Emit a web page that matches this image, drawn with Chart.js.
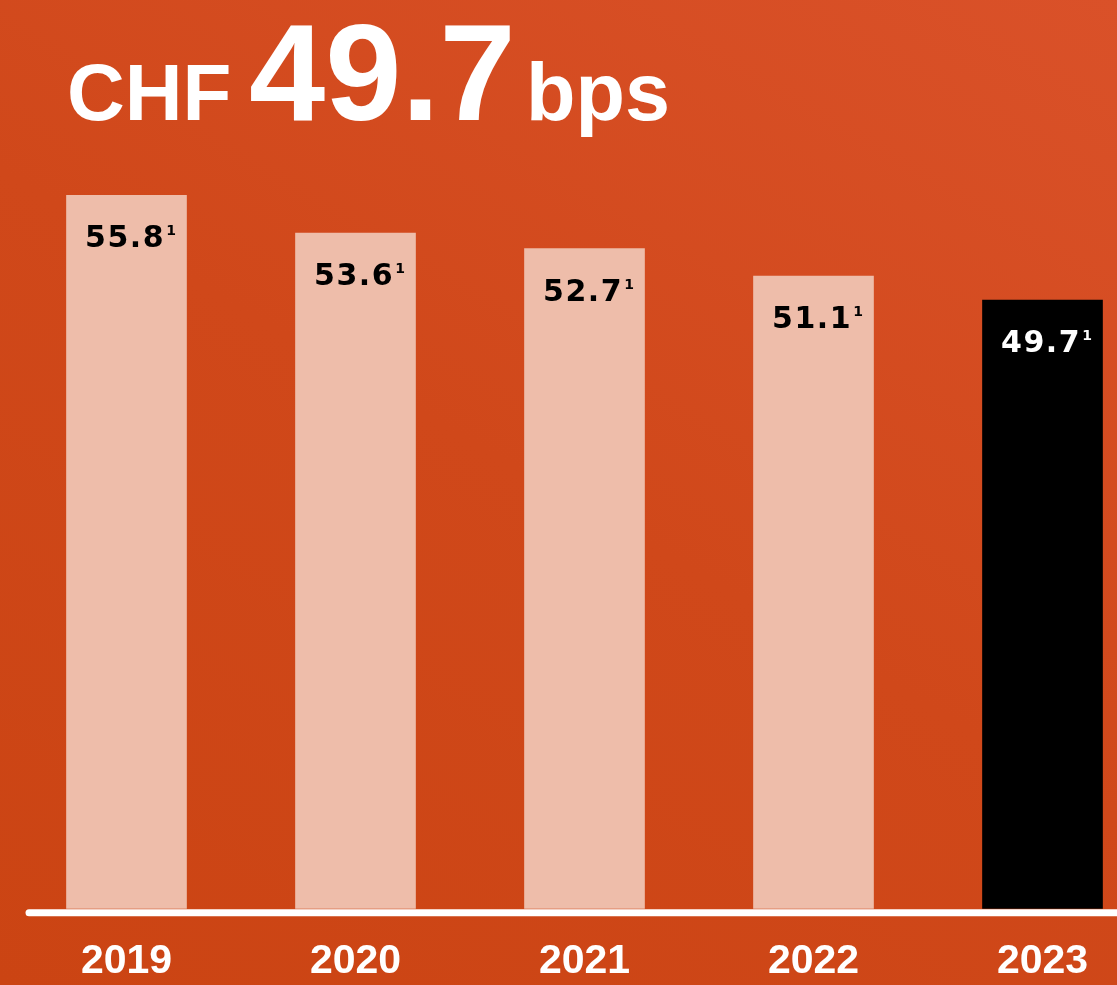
<!DOCTYPE html>
<html>
<head>
<meta charset="utf-8">
<script src="https://cdn.jsdelivr.net/npm/chart.js@4"></script>
<style>
    html, body {
        margin: 0;
        padding: 0;
        width: 1117px;
        height: 985px;
        overflow: hidden;
    }
    body {
        position: relative;
        background: linear-gradient(30deg, #CB4413 0%, #D0481A 50%, #DA5129 100%);
        font-family: "Liberation Sans", Arial, sans-serif;
    }
    .title {
        position: absolute;
        left: 66px;
        top: 0;
        color: #fff;
        font-weight: bold;
        white-space: nowrap;
        line-height: 1;
    }
    .title span { position: absolute; bottom: 0; }
    .wrap {
        position: absolute;
        left: 0;
        top: 0;
        width: 1160px;
        height: 1014px;
    }
</style>
</head>
<body>
<div class="wrap"><canvas id="bpsChart"></canvas></div>
<div class="title" style="top:122px">
    <span style="left:1px; font-size:80px; bottom:-11px">CHF</span>
    <span style="left:183px; font-size:137px; bottom:-19px">49.7</span>
    <span style="left:460px; font-size:81px; bottom:-11px">bps</span>
</div>
<script>
const years = ['2019', '2020', '2021', '2022', '2023'];
const bpsValues = [55.8, 53.6, 52.7, 51.1, 49.7];
const footnote = '1';

const barColors = years.map((y, i) => i === years.length - 1 ? '#000000' : '#EEBDAA');

// подписи значений внутри столбцов
const valueLabels = {
    id: 'valueLabels',
    afterDatasetsDraw(chart) {
        const ctx = chart.ctx;
        const meta = chart.getDatasetMeta(0);
        ctx.save();
        meta.data.forEach((bar, i) => {
            const main = bpsValues[i].toFixed(1);
            ctx.font = 'bold 30px "DejaVu Sans"';
            ctx.letterSpacing = '1.5px';
            const w1 = ctx.measureText(main).width;
            ctx.font = 'bold 14px "DejaVu Sans"';
            ctx.letterSpacing = '0px';
            const w2 = ctx.measureText(footnote).width;
            const x0 = bar.x + 4 - (w1 + w2 + 1) / 2;
            const yb = bar.y + 52;
            ctx.fillStyle = i === years.length - 1 ? '#ffffff' : '#000000';
            ctx.textAlign = 'left';
            ctx.textBaseline = 'alphabetic';
            ctx.font = 'bold 30px "DejaVu Sans"';
            ctx.letterSpacing = '1.5px';
            ctx.fillText(main, x0, yb);
            ctx.font = 'bold 14px "DejaVu Sans"';
            ctx.letterSpacing = '0px';
            ctx.fillText(footnote, x0 + w1 + 1, yb - 12);
        });
        ctx.restore();
    }
};

// белая базовая линия
const baseLine = {
    id: 'baseLine',
    afterDatasetsDraw(chart) {
        const ctx = chart.ctx;
        const y = chart.chartArea.bottom + 4;
        ctx.save();
        ctx.strokeStyle = '#ffffff';
        ctx.lineWidth = 7;
        ctx.lineCap = 'round';
        ctx.beginPath();
        ctx.moveTo(29, y);
        ctx.lineTo(chart.width + 10, y);
        ctx.stroke();
        ctx.restore();
    }
};

new Chart(document.getElementById('bpsChart'), {
    type: 'bar',
    data: {
        labels: years,
        datasets: [{
            data: bpsValues,
            backgroundColor: barColors,
            borderWidth: 0,
            barThickness: 120
        }]
    },
    options: {
        responsive: true,
        maintainAspectRatio: false,
        animation: false,
        layout: {
            padding: { top: 150, left: 12, right: 3, bottom: 0 }
        },
        plugins: {
            legend: { display: false },
            tooltip: { enabled: false }
        },
        scales: {
            y: {
                display: false,
                min: 14.3,
                max: 58.43
            },
            x: {
                border: { display: false },
                grid: { display: false, drawTicks: false },
                ticks: {
                    color: '#ffffff',
                    padding: 28,
                    font: { family: '"Liberation Sans"', size: 41, weight: 'bold' }
                }
            }
        }
    },
    plugins: [valueLabels, baseLine]
});
</script>
</body>
</html>
